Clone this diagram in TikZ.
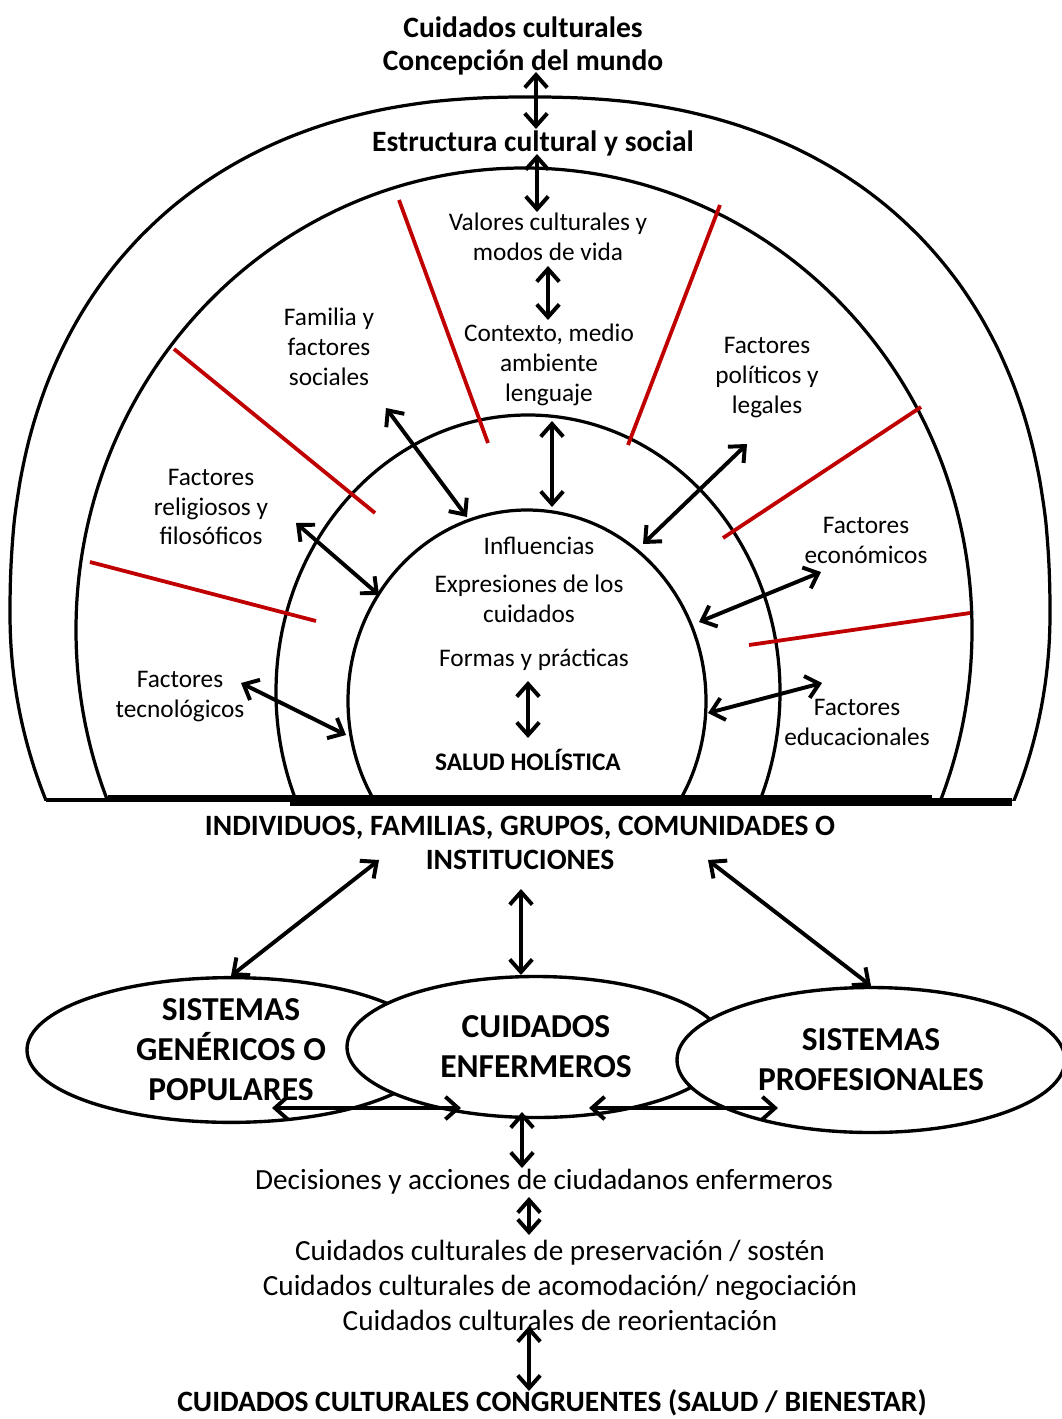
\documentclass[tikz,border=0pt]{standalone}
\usepackage{fontspec}
\setmainfont{Carlito}
\usetikzlibrary{arrows.meta,shapes.geometric}
\definecolor{factred}{RGB}{192,0,0}

\tikzset{
  arch/.style={line width=2.3pt},
  redline/.style={line width=2.7pt, color=factred},
  dbl/.style={line width=2.8pt, {Straight Barb[length=9pt,width=16pt]}-{Straight Barb[length=9pt,width=16pt]}},
  txt/.style={align=center, inner sep=0pt, font=\fontsize{18}{21.3}\selectfont},
  hdr/.style={align=center, inner sep=0pt, font=\bfseries\fontsize{21}{24.5}\selectfont},
  low/.style={align=center, inner sep=0pt, font=\fontsize{20.8}{24.9}\selectfont},
  sysell/.style={ellipse, draw, line width=2.4pt, fill=white, inner sep=0pt, align=center,
    font=\bfseries\fontsize{23.8}{28.5}\selectfont}
}

\begin{document}
\begin{tikzpicture}[x=0.025cm, y=-0.025cm]
  \useasboundingbox (0,0) rectangle (1062,1419);

  %%%%% ARCHES %%%%%
  \begin{scope}
    \clip (0,0) rectangle (1062,800);
    % outer arch: fuller than an ellipse above, plain ellipse below
    \draw[arch] plot[domain=-25:0, samples=20, smooth] ({530 + 520*cos(\x)}, {615 - 507*sin(\x)})
      -- plot[domain=0.2:179.8, samples=120, smooth]
      ({530 + 520*((cos(\x)<0) ? -1 : 1)*pow(abs(cos(\x))+0.00001, 2/2.3)},
       {615 - 518*pow(abs(sin(\x))+0.00001, 2/2.3)})
      -- plot[domain=180:205, samples=20, smooth] ({530 + 520*cos(\x)}, {615 - 507*sin(\x)});
  \end{scope}
  \begin{scope}
    \clip (0,0) rectangle (1062,797);
    \draw[arch] (524,630) ellipse [x radius=448, y radius=462];
  \end{scope}
  \begin{scope}
    \clip (0,0) rectangle (1062,804);
    \draw[arch] (528,692) ellipse [x radius=252, y radius=277];
  \end{scope}
  \begin{scope}
    \clip (0,0) rectangle (1062,800);
    \draw[arch] (527,701) ellipse [x radius=179, y radius=191];
  \end{scope}

  % base lines
  \draw[arch] (46,800) -- (1012,800);
  \draw[arch] (108,797) -- (932,797);
  \draw[arch] (290,804) -- (1012,804);
  \draw[line width=3.2pt] (372,800) -- (683,800);

  %%%%% RED SEPARATORS %%%%%
  \draw[redline] (399,200) -- (488,443);
  \draw[redline] (720,205) -- (628,445);
  \draw[redline] (174,349) -- (375,513);
  \draw[redline] (921,407) -- (723,538);
  \draw[redline] (90,562) -- (316,621);
  \draw[redline] (970,613) -- (749,645);

  %%%%% TEXTS %%%%%
  \node[hdr] (cuid) at (523,27) {Cuidados culturales};
  \node[hdr] (mundo) at (523,62) {Concepción del mundo};
  \node[hdr] (estr) at (533,143) {Estructura cultural y social};
  \node[txt] (valores) at (548,237) {Valores culturales y\\modos de vida};
  \node[txt] (contexto) at (549,365) {Contexto, medio\\ambiente\\lenguaje};
  \node[txt] (familia) at (329,347) {Familia y\\factores\\sociales};
  \node[txt] (politicos) at (767,378) {Factores\\políticos y\\legales};
  \node[txt] (religiosos) at (211,507) {Factores\\religiosos y\\filosóficos};
  \node[txt] (economicos) at (866,540) {Factores\\económicos};
  \node[txt] (influ) at (539,546) {Influencias};
  \node[txt] (expres) at (529,599) {Expresiones de los\\cuidados};
  \node[txt] (formas) at (534,660) {Formas y prácticas};
  \node[txt] (tecno) at (180,697) {Factores\\tecnológicos};
  \node[txt] (educ) at (857,722) {Factores\\educacionales};
  \node[txt, font=\bfseries\fontsize{18}{21.3}\selectfont] (salud) at (528,760) {SALUD HOLÍSTICA};
  \node[hdr] (indiv) at (520,843) {INDIVIDUOS, FAMILIAS, GRUPOS, COMUNIDADES O\\INSTITUCIONES};

  %%%%% SYSTEMS %%%%%
  \node[sysell, minimum width=408*0.025cm, minimum height=144*0.025cm] (generic) at (231,1050) {SISTEMAS\\GENÉRICOS O\\POPULARES};
  \node[sysell, minimum width=378*0.025cm, minimum height=141*0.025cm] (nursing) at (536,1047) {CUIDADOS\\ENFERMEROS};
  \node[sysell, minimum width=388*0.025cm, minimum height=145*0.025cm] (profes) at (871,1060) {SISTEMAS\\PROFESIONALES};

  \node[low] (decis) at (544,1182) {Decisiones y acciones de ciudadanos enfermeros};
  \node[low] (modes) at (560,1285) {Cuidados culturales de preservación / sostén\\Cuidados culturales de acomodación/ negociación\\Cuidados culturales de reorientación};
  \node[hdr] (congr) at (552,1403) {CUIDADOS CULTURALES CONGRUENTES (SALUD / BIENESTAR)};

  %%%%% ARROW ENDS %%%%%
  \coordinate (a1) at (536,72);   \coordinate (b1) at (536,129);
  \coordinate (a2) at (537,154);  \coordinate (b2) at (537,212);
  \coordinate (a3) at (548,266);  \coordinate (b3) at (548,320);
  \coordinate (a4) at (552,421);  \coordinate (b4) at (552,507);
  \coordinate (a5) at (386,408);  \coordinate (b5) at (467,517);
  \coordinate (a6) at (296,523);  \coordinate (b6) at (379,595);
  \coordinate (a7) at (241,683);  \coordinate (b7) at (346,735);
  \coordinate (a8) at (747,444);  \coordinate (b8) at (643,544);
  \coordinate (a9) at (821,572);  \coordinate (b9) at (699,622);
  \coordinate (a10) at (822,683); \coordinate (b10) at (708,713);
  \coordinate (a11) at (528,681); \coordinate (b11) at (528,738);
  \coordinate (a12) at (379,860); \coordinate (a13) at (521,889);
  \coordinate (b13) at (521,975); \coordinate (a14) at (708,860);
  \coordinate (a15) at (272,1108); \coordinate (b15) at (461,1108);
  \coordinate (a16) at (589,1108); \coordinate (b16) at (778,1108);
  \coordinate (a17) at (522,1112); \coordinate (b17) at (522,1168);
  \coordinate (a18) at (529,1197); \coordinate (b18) at (529,1235);
  \coordinate (a19) at (529,1326); \coordinate (b19) at (529,1391);

  %%%%% ARROWS %%%%%
  \draw[dbl] (a1) -- (b1);
  \draw[dbl] (a2) -- (b2);
  \draw[dbl] (a3) -- (b3);
  \draw[dbl] (a4) -- (b4);
  \draw[dbl] (a5) -- (b5);
  \draw[dbl] (a6) -- (b6);
  \draw[dbl] (a7) -- (b7);
  \draw[dbl] (a8) -- (b8);
  \draw[dbl] (a9) -- (b9);
  \draw[dbl] (a10) -- (b10);
  \draw[dbl] (a11) -- (b11);
  \draw[dbl] (a12) -- (generic.north);
  \draw[dbl] (a13) -- (b13);
  \draw[dbl] (a14) -- (profes.north);
  \draw[dbl] (a15) -- (b15);
  \draw[dbl] (a16) -- (b16);
  \draw[dbl] (a17) -- (b17);
  \draw[dbl] (a18) -- (b18);
  \draw[dbl] (a19) -- (b19);
\end{tikzpicture}
\end{document}
